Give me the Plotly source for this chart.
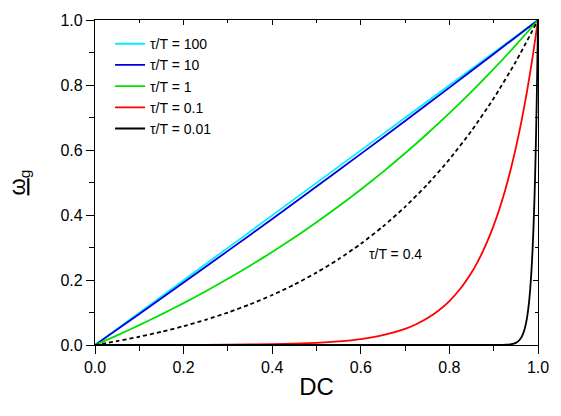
import plotly.graph_objects as go

# ---- data ----
dc_lin = [0.0, 0.1, 0.2, 0.3, 0.4, 0.5, 0.6, 0.7, 0.8, 0.9, 1.0]
w_100 = [0.0, 0.0996, 0.1992, 0.2989, 0.3988, 0.4988, 0.5988, 0.6990, 0.7992, 0.8995, 1.0]
w_10 = [0.0, 0.0956, 0.1921, 0.2896, 0.3880, 0.4875, 0.5880, 0.6895, 0.7920, 0.8954, 1.0]

dc_fine = [0.0, 0.05, 0.1, 0.15, 0.2, 0.25, 0.3, 0.35, 0.4, 0.45, 0.5,
           0.55, 0.6, 0.65, 0.7, 0.75, 0.8, 0.85, 0.9, 0.95, 1.0]
w_1 = [0.0, 0.0298, 0.0612, 0.0942, 0.1289, 0.1653, 0.2036, 0.2439, 0.2862, 0.3307, 0.3775,
       0.4267, 0.4785, 0.5328, 0.5900, 0.6501, 0.7132, 0.7796, 0.8495, 0.9228, 1.0]
w_04 = [0.0, 0.0119, 0.0254, 0.0407, 0.0580, 0.0776, 0.0999, 0.1251, 0.1537, 0.1860, 0.2227,
        0.2643, 0.3113, 0.3647, 0.4252, 0.4937, 0.5713, 0.6593, 0.7590, 0.8720, 1.0]

dc_red = [0.0, 0.1, 0.2, 0.3, 0.4, 0.5, 0.55, 0.6, 0.65, 0.7, 0.725, 0.75, 0.775, 0.8,
          0.825, 0.85, 0.8625, 0.875, 0.8875, 0.9, 0.9125, 0.925, 0.9375, 0.95, 0.9625,
          0.975, 0.9875, 1.0]
w_01 = [0.0, 0.0001, 0.0003, 0.0009, 0.0025, 0.0067, 0.0111, 0.0183, 0.0302, 0.0498, 0.0639,
        0.0821, 0.1054, 0.1353, 0.1738, 0.2231, 0.2528, 0.2865, 0.3247, 0.3679, 0.4169,
        0.4724, 0.5353, 0.6065, 0.6873, 0.7788, 0.8825, 1.0]

dc_blk = [0.0, 0.9, 0.93, 0.94, 0.95, 0.955, 0.96, 0.965, 0.97, 0.975, 0.98, 0.9825,
          0.985, 0.9875, 0.99, 0.9925, 0.995, 0.9975, 1.0]
w_001 = [0.0, 0.0, 0.0009, 0.0025, 0.0067, 0.0111, 0.0183, 0.0302, 0.0498, 0.0821, 0.1353,
         0.1738, 0.2231, 0.2865, 0.3679, 0.4724, 0.6065, 0.7788, 1.0]

names = ["τ/T = 100", "τ/T = 10", "τ/T = 1", "τ/T = 0.1", "τ/T = 0.01"]
colors = ["#00EEFF", "#0000DD", "#00E000", "#FF0000", "#000000"]
tick_vals = [0.0, 0.2, 0.4, 0.6, 0.8, 1.0]
tick_text = ["0.0", "0.2", "0.4", "0.6", "0.8", "1.0"]

fig = go.Figure()
series = [(dc_lin, w_100), (dc_lin, w_10), (dc_fine, w_1), (dc_red, w_01), (dc_blk, w_001)]
for (xs, ys), nm, c in zip(series, names, colors):
    fig.add_trace(go.Scatter(x=xs, y=ys, mode="lines", name=nm,
                             line=dict(color=c, width=1.8, shape="spline", smoothing=0.6)))
fig.add_trace(go.Scatter(x=dc_fine, y=w_04, mode="lines", showlegend=False,
                         line=dict(color="black", width=1.8, dash="4px,3px", shape="spline", smoothing=0.6)))
# helper trace for mirrored top/right axes
fig.add_trace(go.Scatter(x=[0], y=[0], xaxis="x2", yaxis="y2", mode="markers",
                         marker=dict(opacity=0), showlegend=False, hoverinfo="skip"))

fig.add_annotation(x=0.614, y=0.281, xref="x", yref="y", text="τ/T = 0.4", showarrow=False,
                   xanchor="left", yanchor="middle", font=dict(size=14, color="black"))

axis_common = dict(range=[0, 1], tickvals=tick_vals, showgrid=False, zeroline=False,
                   showline=True, linecolor="black", linewidth=1.3, tickcolor="black",
                   tickwidth=1.2)

fig.update_layout(
    width=561, height=416,
    margin=dict(l=95, r=18, t=18, b=71),
    paper_bgcolor="white", plot_bgcolor="white",
    font=dict(family="Liberation Sans, Arial, sans-serif", color="black"),
    xaxis=dict(**axis_common, ticktext=tick_text, ticks="outside", ticklen=8,
               tickfont=dict(size=16),
               minor=dict(ticks="outside", ticklen=5, dtick=0.1, tickcolor="black", tickwidth=1.2),
               title=dict(text="DC", font=dict(size=24), standoff=2)),
    yaxis=dict(**axis_common, ticktext=tick_text, ticks="outside", ticklen=8,
               tickfont=dict(size=16),
               minor=dict(ticks="outside", ticklen=5, dtick=0.1, tickcolor="black", tickwidth=1.2),
               title=dict(text="<u>ω</u><sub>g</sub>", font=dict(size=22), standoff=28)),
    xaxis2=dict(**axis_common, overlaying="x", side="top", ticks="inside", ticklen=5,
                showticklabels=False,
                minor=dict(ticks="inside", ticklen=3, dtick=0.1, tickcolor="black", tickwidth=1.2)),
    yaxis2=dict(**axis_common, overlaying="y", side="right", ticks="inside", ticklen=5,
                showticklabels=False,
                minor=dict(ticks="inside", ticklen=3, dtick=0.1, tickcolor="black", tickwidth=1.2)),
    legend=dict(x=0.034, y=0.975, xanchor="left", yanchor="top", bgcolor="rgba(0,0,0,0)",
                font=dict(size=14), itemwidth=30, tracegroupgap=0),
    showlegend=True,
)

fig.write_html("out.html")
